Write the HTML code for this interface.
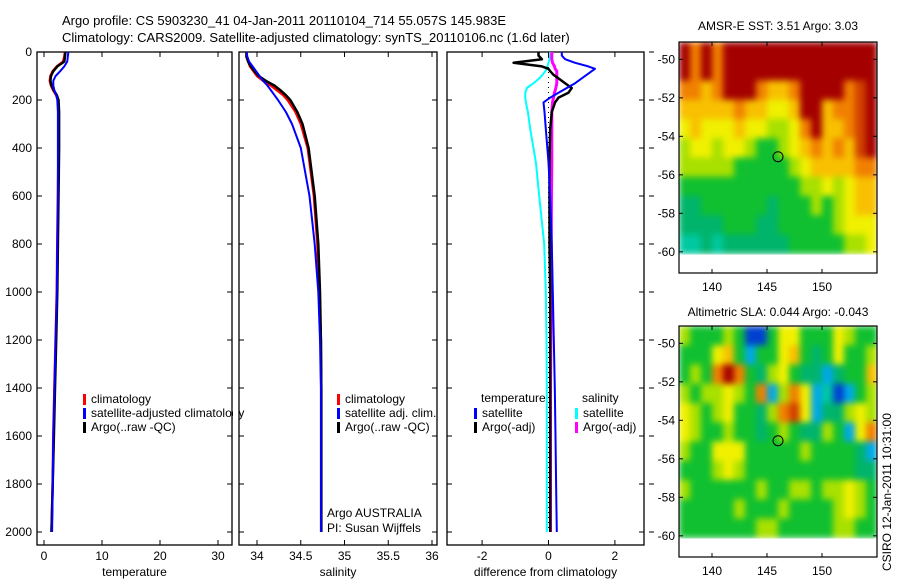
<!DOCTYPE html>
<html><head><meta charset="utf-8">
<style>
html,body{margin:0;padding:0;background:#fff;}
svg{display:block;font-family:"Liberation Sans",sans-serif;}
text{font-size:12px;fill:#000;}
</style></head>
<body>
<svg id="fig" width="900" height="580" viewBox="0 0 900 580" xmlns="http://www.w3.org/2000/svg">
<defs>
<filter id="bl" x="0" y="0" width="1" height="1" color-interpolation-filters="sRGB"><feGaussianBlur stdDeviation="3.2" edgeMode="duplicate"/></filter>
</defs>
<rect width="900" height="580" fill="#fff"/>
<text x="62" y="25" style="font-size:13px">Argo profile: CS 5903230_41 04-Jan-2011 20110104_714 55.057S 145.983E</text>
<text x="62" y="42" style="font-size:13px">Climatology: CARS2009. Satellite-adjusted climatology: synTS_20110106.nc (1.6d later)</text>
<g id="p1"></g>
<g id="p2"></g>
<g id="p3"></g>
<g id="m1"></g>
<g id="m2"></g>
<text transform="translate(891,571) rotate(-90)">CSIRO 12-Jan-2011 10:31:00</text>
</svg>
<script>
const depths=[0,20,40,60,80,100,120,140,160,180,200,250,300,400,600,800,1000,1200,1400,1600,1800,2000];
const argoT=[3.7,3.6,3.5,2.3,1.6,1.2,1.1,1.3,1.7,2.2,2.5,2.6,2.6,2.6,2.5,2.4,2.3,2.1,1.9,1.7,1.5,1.3];
const climT=[3.6,3.5,3.3,2.2,1.5,1.1,1.0,1.2,1.6,2.1,2.4,2.5,2.5,2.5,2.4,2.3,2.2,2.0,1.8,1.6,1.5,1.3];
const satT=[4.2,4.1,4.0,3.5,2.8,2.0,1.6,1.6,1.8,2.1,2.3,2.4,2.4,2.4,2.4,2.3,2.2,2.0,1.8,1.6,1.5,1.4];
const argoS=[33.88,33.88,33.9,33.93,33.97,34.02,34.1,34.2,34.27,34.33,34.38,34.46,34.52,34.59,34.66,34.7,34.72,34.73,34.735,34.735,34.735,34.735];
const climS=[33.88,33.88,33.9,33.92,33.96,34.0,34.07,34.16,34.23,34.3,34.35,34.44,34.5,34.58,34.65,34.69,34.71,34.73,34.735,34.735,34.735,34.735];
const satS=[33.88,33.89,33.91,33.95,33.99,34.03,34.07,34.12,34.16,34.2,34.24,34.33,34.4,34.5,34.6,34.66,34.7,34.72,34.73,34.73,34.73,34.73];
const diffDepths=[0,15,30,45,60,70,80,95,110,130,150,170,190,210,250,320,460,600,800,1000,1200,1400,1600,1800,2000];
const satDT=[0.4,0.4,0.5,0.8,1.2,1.4,1.3,1.15,1.0,0.8,0.55,0.3,0.05,-0.15,-0.12,-0.08,0.0,0.05,0.1,0.13,0.16,0.19,0.21,0.23,0.25];
const argoDT=[-0.3,-0.3,-0.2,-1.05,-0.2,0.0,0.05,0.15,0.3,0.5,0.7,0.6,0.3,0.2,0.1,0.05,0.03,0.03,0.03,0.05,0.05,0.05,0.05,0.05,0.05];
const satDS=[0.05,0.05,0.03,0.0,-0.03,-0.05,-0.1,-0.18,-0.28,-0.45,-0.65,-0.7,-0.7,-0.68,-0.62,-0.55,-0.38,-0.28,-0.13,-0.08,-0.06,-0.05,-0.05,-0.05,-0.05];
const argoDS=[0.1,0.1,0.1,0.12,0.18,0.2,0.25,0.25,0.25,0.25,0.22,0.18,0.15,0.12,0.1,0.1,0.1,0.09,0.08,0.08,0.07,0.06,0.06,0.06,0.06];
const depthTicks=[0,200,400,600,800,1000,1200,1400,1600,1800,2000];
const tTicks=[0,10,20,30];
const sTicks=[34,34.5,35,35.5,36];
const dTicks=[-2,0,2];
const lonTicks=[140,145,150];
const latTicks=[-50,-52,-54,-56,-58,-60];
const sstGrid=[
"868688888888888888",
"868688888888888888",
"665688865568888678",
"555556554458856678",
"454445443346855678",
"344344322345656578",
"333332222234555566",
"222222222223343455",
"112222221222323455",
"111122211222223444",
"001011111122222334"];
const slaGrid=[
"322232aa2442224322",
"222452b22452124223",
"2326862134211b1225",
"32334326b364b0ab23",
"432342213674b11343",
"432232212321132b46",
"322444222223222 1b",
"222343222222222211",
"322222232233233432",
"222223222322223432",
"222222233222223322"];
const palette={"0":"#00c8a0","1":"#00b46c","2":"#10c030","3":"#a8e000","4":"#f0f000","5":"#f8c000","6":"#f08000","7":"#d04000","8":"#a40000","a":"#0040d0","b":"#00a8e8"," ":"#10c030"};

const NS="http://www.w3.org/2000/svg";
function mk(tag,attrs,parent){const e=document.createElementNS(NS,tag);for(const k in attrs)e.setAttribute(k,attrs[k]);parent.appendChild(e);return e;}
const top0=52,bot=545,ky=0.24;
const yD=d=>top0+d*ky;

function panel(g,x0,x1,xs,ticks,fmt,title,leftLabels,rightTicks){
  const r=mk('rect',{x:x0,y:top0,width:x1-x0,height:bot-top0,fill:'none',stroke:'#000','stroke-width':1.3},g);
  
  
  depthTicks.forEach(d=>{
    const y=yD(d);
    const t=mk('line',{x1:x0,y1:y,x2:x0+5,y2:y,stroke:'#000'},g);
    
    
    mk('line',{x1:x1-5,y1:y,x2:x1,y2:y,stroke:'#000'},g);
    if(rightTicks){mk('line',{x1:x1+5,y1:y,x2:x1+10,y2:y,stroke:'#000'},g);}
    if(leftLabels){
      const l=mk('text',{x:x0-5,y:y+4,'text-anchor':'end'},g);l.textContent=d;
      
      
    }
  });
  ticks.forEach(v=>{
    const x=xs(v);
    mk('line',{x1:x,y1:top0,x2:x,y2:top0+5,stroke:'#000'},g);
    const t=mk('line',{x1:x,y1:bot-5,x2:x,y2:bot,stroke:'#000'},g);
    
    
    const l=mk('text',{x:x,y:560,'text-anchor':'middle'},g);l.textContent=fmt(v);
    
    
  });
  const tt=mk('text',{x:(x0+x1)/2,y:576,'text-anchor':'middle'},g);tt.textContent=title;
  
  
}
function line(g,xs,vals,ds,color,w,name){
  const pts=vals.map((v,i)=>xs(v).toFixed(1)+','+yD(ds[i]).toFixed(1)).join(' ');
  const p=mk('polyline',{points:pts,fill:'none',stroke:color,'stroke-width':w,'stroke-linejoin':'round'},g);
  
  
}
function legend(g,x,y,color,label,name){
  const b=mk('rect',{x:x,y:y-9,width:3,height:11,fill:color},g);
  
  
  const t=mk('text',{x:x+8,y:y},g);t.textContent=label;
  
  
}

// Panel 1
const p1=document.getElementById('p1');
const xT=v=>44+v*5.8;
panel(p1,37,232,xT,tTicks,v=>v,'temperature',true,false);
line(p1,xT,climT,depths,'#f00',2.5,'temperature-climatology-line');
line(p1,xT,argoT,depths,'#000',2.5,'temperature-argo-line');
line(p1,xT,satT,depths,'#00f',2,'temperature-satellite-line');
legend(p1,83,403,'#f00','climatology','legend-climatology');
legend(p1,83,417,'#00f','satellite-adjusted climatology','legend-satellite-adjusted');
legend(p1,83,431,'#000','Argo(..raw -QC)','legend-argo');
mk('rect',{x:233,y:405,width:5,height:16,fill:'#fff'},p1);

// Panel 2
const p2=document.getElementById('p2');
const xS=v=>257+(v-34)*87.5;
panel(p2,239,437,xS,sTicks,v=>v,'salinity',false,false);
line(p2,xS,climS,depths,'#f00',2.5,'salinity-climatology-line');
line(p2,xS,argoS,depths,'#000',2.5,'salinity-argo-line');
line(p2,xS,satS,depths,'#00f',2,'salinity-satellite-line');
legend(p2,337,403,'#f00','climatology','legend-climatology');
legend(p2,337,417,'#00f','satellite adj. clim.','legend-satellite-adj');
legend(p2,337,431,'#000','Argo(..raw -QC)','legend-argo');
const a1=mk('text',{x:327,y:517},p2);a1.textContent='Argo AUSTRALIA';


const a2=mk('text',{x:327,y:532},p2);a2.textContent='PI: Susan Wijffels';



// Panel 3
const p3=document.getElementById('p3');
const xDf=v=>548.5+v*33.2;
panel(p3,447,644,xDf,dTicks,v=>v,'difference from climatology',false,true);
const z=mk('line',{x1:xDf(0),y1:yD(0),x2:xDf(0),y2:yD(2000),stroke:'#000','stroke-dasharray':'1,4'},p3);


line(p3,xDf,satDS,diffDepths,'#0ff',2,'salinity-satellite-diff-line');
line(p3,xDf,argoDS,diffDepths,'#f0f',3,'salinity-argo-diff-line');
line(p3,xDf,argoDT,diffDepths,'#000',2.5,'temperature-argo-diff-line');
line(p3,xDf,satDT,diffDepths,'#00f',2,'temperature-satellite-diff-line');
const lt=mk('text',{x:481,y:402},p3);lt.textContent='temperature';


const ls=mk('text',{x:582,y:402},p3);ls.textContent='salinity';


legend(p3,474,417,'#00f','satellite','legend-temp-satellite');
legend(p3,474,431,'#000','Argo(-adj)','legend-temp-argo');
legend(p3,575,417,'#0ff','satellite','legend-sal-satellite');
legend(p3,575,431,'#f0f','Argo(-adj)','legend-sal-argo');

// Maps
function map(g,top,bottom,grid,title,titleY){
  const L=679,R=877,lon0=137,dx=11,latTop=-49.1,dy=(bottom-top)/12;
  const yL=lat=>top+(latTop-lat)*dy;
  const xL=lon=>L+(lon-lon0)*dx;
  const cells=mk('g',{filter:'url(#bl)'},g);
  
  
  grid.forEach((row,ri)=>{
    for(let ci=0;ci<row.length;ci++){
      const c=mk('rect',{x:xL(lon0+ci).toFixed(1),y:yL(latTop-ri).toFixed(1),width:dx+0.4,height:(dy+0.4).toFixed(1),fill:palette[row[ci]]},cells);
      
      
    }
  });
  const f=mk('rect',{x:L,y:top,width:R-L,height:bottom-top,fill:'none',stroke:'#000','stroke-width':1.2},g);
  
  
  latTicks.forEach(la=>{
    const y=yL(la);
    mk('line',{x1:L,y1:y,x2:L+4,y2:y,stroke:'#000'},g);
    mk('line',{x1:R-4,y1:y,x2:R,y2:y,stroke:'#000'},g);
    const t=mk('text',{x:L-4,y:y+4,'text-anchor':'end'},g);t.textContent=la;
    
    
  });
  lonTicks.forEach(lo=>{
    const x=xL(lo);
    mk('line',{x1:x,y1:top,x2:x,y2:top+4,stroke:'#000'},g);
    mk('line',{x1:x,y1:bottom-4,x2:x,y2:bottom,stroke:'#000'},g);
    const t=mk('text',{x:x,y:bottom+18,'text-anchor':'middle'},g);t.textContent=lo;
    
    
  });
  const c=mk('circle',{cx:xL(146),cy:yL(-55.06),r:5,fill:'none',stroke:'#000','stroke-width':1},g);
  
  
  const t=mk('text',{x:(L+R)/2,y:titleY,'text-anchor':'middle'},g);t.textContent=title;
  
  
}
map(document.getElementById('m1'),42,273,sstGrid,'AMSR-E SST: 3.51 Argo: 3.03',30);
map(document.getElementById('m2'),326,557,slaGrid,'Altimetric SLA: 0.044 Argo: -0.043',316);
</script>
</body></html>
